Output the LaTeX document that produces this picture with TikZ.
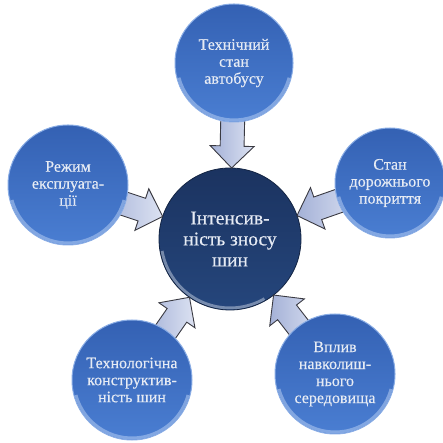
\documentclass[tikz,border=0pt]{standalone}
\usepackage{fontspec}
\setmainfont{Liberation Serif}
\usetikzlibrary{shapes.arrows,calc}

\definecolor{outerTop}{HTML}{3461B3}
\definecolor{outerBot}{HTML}{4A7ED2}
\definecolor{rimLight}{HTML}{B4CCF2}
\definecolor{coreTop}{HTML}{1B3360}
\definecolor{coreBot}{HTML}{25467C}
\definecolor{coreRim}{HTML}{C9D2E2}
\definecolor{arrLight}{HTML}{DCE2F2}
\definecolor{arrDark}{HTML}{A4B1D7}
\definecolor{arrLine}{HTML}{3A3A42}
\definecolor{labelText}{HTML}{E6EBF4}

\pgfdeclarelayer{bg}
\pgfsetlayers{bg,main}

\tikzset{
  factor/.style={circle, minimum size=#1, inner sep=0pt, outer sep=0pt,
    shade, top color=outerTop, bottom color=outerBot,
    draw=rimLight!60!outerBot, line width=1pt,
    text=labelText, align=center,
    font=\rmfamily\addfontfeature{FakeBold=0.3}\fontsize{16}{17}\selectfont,
    path picture={\draw[line width=3pt, rimLight, opacity=.55]
      (path picture bounding box.center) ++(195:#1/2-2pt)
      arc[start angle=195, end angle=345, radius=#1/2-2pt];}},
  core/.style={circle, minimum size=142pt, inner sep=0pt, outer sep=0pt,
    shade, top color=coreTop, bottom color=coreBot,
    draw=coreTop!70!black, line width=.8pt,
    text=labelText, align=center,
    font=\rmfamily\addfontfeature{FakeBold=0.3}\fontsize{19.5}{21}\selectfont,
    path picture={\draw[line width=3pt, coreRim, opacity=.5]
      (path picture bounding box.center) ++(190:69pt)
      arc[start angle=190, end angle=300, radius=69pt];}},
  blockarrow/.style={single arrow, draw=arrLine, line width=.9pt,
    shade, left color=arrDark, right color=arrLight,
    inner xsep=0pt, inner ysep=11.5pt, minimum height=64pt,
    single arrow head extend=10pt, single arrow tip angle=90,
    outer sep=0pt}
}

% block arrow from a factor circle to the central circle
\newcommand\feedarrow[2]{%
  \path let \p1=($(c.center)-(#1.center)$), \n1={atan2(\y1,\x1)} in
    node[blockarrow, rotate=\n1, anchor=tip] (#2)
      at ($(c.center)!71pt!(#1.center)$) {};}

\begin{document}
\begin{tikzpicture}[x=1pt,y=1pt]
\useasboundingbox (0,0) rectangle (443,443);

\begin{pgfonlayer}{bg}
  \node[core] (c) at (230,204) {Інтенсив-\\ність зносу\\шин};
\end{pgfonlayer}

\node[factor=118pt] (t)  at (234,380) {Технічний\\стан\\автобусу};
\node[factor=110pt] (r)  at (390,260) {Стан\\дорожнього\\покриття};
\node[factor=120pt] (br) at (335,69)  {Вплив\\навколиш-\\нього\\середовища};
\node[factor=120pt] (bl) at (132,63)  {Технологічна\\конструктив-\\ність шин};
\node[factor=120pt] (l)  at (68,258)  {Режим\\експлуата-\\ції};

\begin{pgfonlayer}{bg}
  \feedarrow{t}{at}
  \feedarrow{r}{ar}
  \feedarrow{br}{abr}
  \feedarrow{bl}{abl}
  \feedarrow{l}{al}
\end{pgfonlayer}
\end{tikzpicture}
\end{document}
